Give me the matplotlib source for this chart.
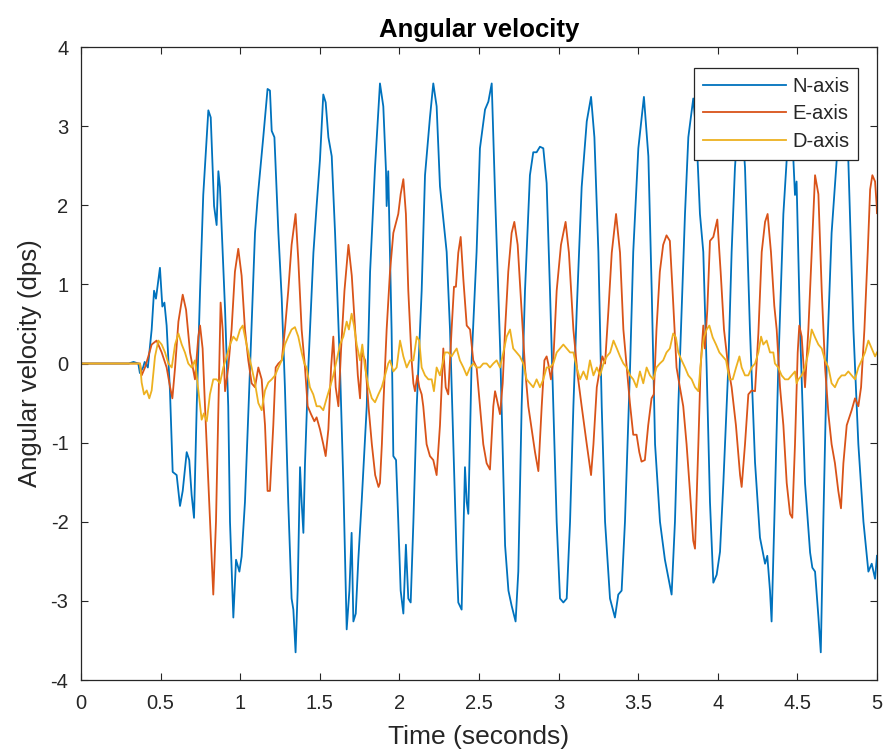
import matplotlib
matplotlib.use("Agg")
import matplotlib.pyplot as plt

# Angular velocity readings (time in seconds, value in dps)
n_time = [0.0, 0.30, 0.33, 0.36, 0.37, 0.39, 0.40, 0.42, 0.444, 0.459, 0.471, 0.496, 0.511, 0.524, 0.538,
          0.559, 0.576, 0.601, 0.622, 0.639, 0.664, 0.680, 0.695, 0.710, 0.727, 0.748, 0.768, 0.800, 0.815,
          0.836, 0.852, 0.863, 0.873, 0.905, 0.925, 0.936, 0.957, 0.974, 0.995, 1.009, 1.030, 1.062, 1.093,
          1.11, 1.145, 1.172, 1.187, 1.198, 1.215, 1.240, 1.261, 1.281, 1.302, 1.323, 1.334, 1.348, 1.361,
          1.376, 1.386, 1.397, 1.407, 1.428, 1.460, 1.480, 1.501, 1.522, 1.537, 1.554, 1.575, 1.596, 1.627,
          1.648, 1.669, 1.686, 1.700, 1.711, 1.726, 1.742, 1.763, 1.795, 1.816, 1.847, 1.878, 1.899, 1.916,
          1.920, 1.930, 1.951, 1.962, 1.979, 1.993, 2.008, 2.025, 2.041, 2.056, 2.071, 2.088, 2.109, 2.140,
          2.161, 2.192, 2.213, 2.234, 2.255, 2.297, 2.318, 2.339, 2.360, 2.370, 2.391, 2.412, 2.423, 2.433,
          2.454, 2.485, 2.506, 2.538, 2.559, 2.580, 2.601, 2.633, 2.664, 2.685, 2.705, 2.730, 2.747, 2.768,
          2.789, 2.820, 2.841, 2.862, 2.883, 2.904, 2.925, 2.946, 2.967, 2.988, 3.009, 3.030, 3.051, 3.072,
          3.093, 3.114, 3.145, 3.177, 3.204, 3.225, 3.250, 3.271, 3.292, 3.323, 3.354, 3.375, 3.396, 3.417,
          3.449, 3.469, 3.501, 3.536, 3.564, 3.585, 3.606, 3.637, 3.668, 3.710, 3.731, 3.752, 3.773, 3.794,
          3.815, 3.846, 3.867, 3.888, 3.909, 3.930, 3.951, 3.972, 3.993, 4.014, 4.035, 4.066, 4.087, 4.108,
          4.140, 4.171, 4.202, 4.234, 4.265, 4.297, 4.311, 4.328, 4.338, 4.355, 4.380, 4.412, 4.433, 4.455,
          4.475, 4.485, 4.495, 4.517, 4.548, 4.580, 4.594, 4.611, 4.632, 4.647, 4.663, 4.684, 4.715, 4.747,
          4.780, 4.820, 4.852, 4.883, 4.915, 4.946, 4.967, 4.988, 5.0]
n_vals = [0.0, 0.0, 0.02, 0.0, -0.12, -0.05, 0.02, -0.05, 0.43, 0.92, 0.82, 1.21, 0.72, 0.77, 0.48,
          -0.35, -1.37, -1.41, -1.80, -1.61, -1.12, -1.22, -1.66, -1.95, -0.54, 0.92, 2.13, 3.20, 3.11,
          1.99, 1.75, 2.43, 2.23, 0.68, -0.54, -2.0, -3.21, -2.48, -2.63, -2.44, -1.75, -0.05, 1.65,
          2.1, 2.86, 3.47, 3.45, 2.94, 2.86, 1.65, 0.82, -0.30, -1.76, -2.97, -3.11, -3.65, -2.87,
          -1.31, -1.75, -2.14, -1.27, -0.05, 1.40, 1.99, 2.57, 3.40, 3.30, 2.86, 2.62, 1.65, -0.05,
          -1.51, -3.36, -2.87, -2.14, -3.26, -3.16, -2.48, -1.75, -0.54, 1.16, 2.48, 3.54, 3.25, 2.43,
          1.99, 2.43, 0.43, -1.17, -1.22, -1.99, -2.87, -3.16, -2.29, -2.97, -3.02, -2.0, -0.54, 0.92,
          2.38, 3.11, 3.54, 3.25, 2.24, 1.41, 0.43, -1.02, -2.48, -3.02, -3.11, -1.31, -1.75, -1.90,
          0.05, 1.41, 2.72, 3.21, 3.31, 3.54, 2.14, 0.19, -2.3, -2.87, -3.06, -3.26, -2.63, -0.54,
          0.92, 2.38, 2.67, 2.67, 2.74, 2.72, 2.28, 0.92, -0.54, -2.0, -2.97, -3.02, -2.97, -2.0,
          -0.54, 0.67, 2.23, 3.06, 3.37, 2.86, 1.41, -0.54, -2.0, -2.97, -3.21, -2.92, -2.87, -2.0,
          -0.05, 1.41, 2.72, 3.37, 2.62, 0.92, -1.02, -2.0, -2.48, -2.92, -2.0, -0.54, 0.67, 1.89,
          2.86, 3.35, 2.86, 1.89, 1.41, -0.05, -1.75, -2.77, -2.67, -2.38, -1.51, -0.05, 1.41, 2.48,
          3.4, 2.48, 0.43, -1.25, -2.2, -2.53, -2.43, -2.87, -3.26, -2.0, -0.05, 1.89, 2.57, 3.3,
          2.57, 2.13, 2.3, 0.43, -1.51, -2.39, -2.58, -2.63, -3.2, -3.65, -2.0, -0.05, 1.65, 2.57,
          3.3, 2.57, 0.43, -1.02, -2.0, -2.63, -2.53, -2.72, -2.43]

e_time = [0.0, 0.371, 0.381, 0.402, 0.423, 0.444, 0.475, 0.507, 0.538, 0.559, 0.574, 0.591, 0.612, 0.639,
          0.660, 0.685, 0.702, 0.716, 0.737, 0.748, 0.764, 0.779, 0.800, 0.821, 0.831, 0.848, 0.863, 0.877,
          0.890, 0.905, 0.925, 0.946, 0.967, 0.988, 1.009, 1.030, 1.051, 1.072, 1.093, 1.114, 1.135, 1.156,
          1.172, 1.187, 1.208, 1.223, 1.240, 1.261, 1.281, 1.302, 1.323, 1.348, 1.365, 1.386, 1.407, 1.424,
          1.445, 1.466, 1.480, 1.501, 1.522, 1.537, 1.554, 1.571, 1.585, 1.600, 1.617, 1.634, 1.655, 1.680,
          1.701, 1.722, 1.739, 1.753, 1.764, 1.785, 1.806, 1.827, 1.848, 1.869, 1.878, 1.890, 1.899, 1.920,
          1.941, 1.962, 1.993, 2.008, 2.025, 2.041, 2.056, 2.077, 2.088, 2.098, 2.113, 2.125, 2.140, 2.150,
          2.171, 2.192, 2.213, 2.234, 2.255, 2.276, 2.291, 2.307, 2.328, 2.343, 2.355, 2.370, 2.385, 2.402,
          2.423, 2.444, 2.464, 2.485, 2.506, 2.527, 2.548, 2.569, 2.590, 2.601, 2.611, 2.632, 2.649, 2.664,
          2.684, 2.705, 2.722, 2.743, 2.768, 2.789, 2.810, 2.831, 2.852, 2.873, 2.894, 2.911, 2.925, 2.935,
          2.952, 2.967, 2.988, 3.015, 3.044, 3.065, 3.093, 3.120, 3.145, 3.177, 3.204, 3.219, 3.240, 3.261,
          3.275, 3.292, 3.313, 3.334, 3.361, 3.386, 3.407, 3.428, 3.448, 3.469, 3.490, 3.507, 3.521, 3.542,
          3.563, 3.584, 3.598, 3.615, 3.636, 3.657, 3.678, 3.699, 3.716, 3.741, 3.762, 3.783, 3.804, 3.825,
          3.846, 3.857, 3.878, 3.892, 3.909, 3.919, 3.934, 3.951, 3.972, 3.997, 4.018, 4.039, 4.066, 4.087,
          4.114, 4.140, 4.150, 4.171, 4.192, 4.213, 4.234, 4.255, 4.276, 4.297, 4.313, 4.334, 4.355, 4.370,
          4.391, 4.412, 4.433, 4.454, 4.468, 4.485, 4.502, 4.512, 4.527, 4.548, 4.569, 4.590, 4.611, 4.632,
          4.653, 4.674, 4.695, 4.715, 4.736, 4.757, 4.774, 4.789, 4.810, 4.841, 4.862, 4.883, 4.900, 4.921,
          4.942, 4.957, 4.971, 4.988, 4.998, 5.0]
e_vals = [0.0, 0.0, -0.15, -0.05, 0.09, 0.24, 0.29, 0.14, -0.05, -0.29, -0.44, -0.05, 0.53, 0.87,
          0.68, 0.14, -0.05, -0.2, 0.34, 0.48, 0.19, -0.54, -1.51, -2.48, -2.92, -2.0, -0.54, 0.77,
          0.43, -0.35, -0.05, 0.43, 1.16, 1.45, 1.11, 0.43, 0.04, -0.25, -0.3, -0.05, -0.2, -0.78,
          -1.61, -1.61, -0.78, -0.05, 0.0, 0.04, 0.43, 0.92, 1.50, 1.89, 1.31, 0.43, -0.05, -0.54,
          -0.64, -0.73, -0.68, -0.83, -1.02, -1.17, -0.83, -0.05, 0.34, -0.3, -0.54, 0.19, 0.92, 1.50,
          1.11, 0.43, -0.15, -0.44, 0.14, 0.04, -0.54, -1.02, -1.41, -1.56, -1.51, -1.02, -0.54, 0.43,
          1.16, 1.65, 1.89, 2.14, 2.33, 1.89, 0.92, 0.04, -0.25, -0.35, -0.15, -0.30, -0.39, -0.54,
          -1.02, -1.17, -1.22, -1.41, -0.78, 0.19, -0.30, -0.39, 0.43, 0.97, 0.97, 1.40, 1.60, 1.06,
          0.48, 0.43, 0.04, -0.05, -0.54, -1.02, -1.26, -1.34, -0.54, -0.35, -0.44, -0.64, -0.25, 0.43,
          1.16, 1.65, 1.79, 1.50, 0.67, -0.05, -0.54, -0.83, -1.12, -1.36, -0.54, 0.04, 0.09, 0.0,
          -0.2, 0.04, 0.92, 1.50, 1.79, 1.40, 0.43, -0.15, -0.54, -1.02, -1.41, -1.02, -0.30, -0.05,
          0.09, 0.0, 0.67, 1.40, 1.89, 1.40, 0.43, -0.05, -0.5, -0.9, -0.90, -1.12, -1.24, -1.22,
          -0.78, -0.44, -0.39, 0.43, 1.16, 1.50, 1.62, 1.55, 0.92, -0.05, -0.30, -0.54, -1.02, -1.61,
          -2.24, -2.34, -1.02, -0.05, 0.48, 0.19, 0.67, 1.55, 1.60, 1.82, 1.16, 0.43, -0.05, -0.30,
          -0.78, -1.41, -1.56, -1.02, -0.39, -0.34, -0.35, 0.38, 1.41, 1.79, 1.89, 1.41, 0.73, 0.43,
          -0.30, -0.78, -1.51, -1.90, -1.95, -1.02, 0.14, 0.48, 0.34, -0.30, 0.43, 1.41, 2.38, 2.14,
          0.92, -0.05, -0.64, -1.02, -1.26, -1.61, -1.83, -1.26, -0.78, -0.59, -0.44, -0.54, -0.30, 0.43,
          1.41, 2.2, 2.38, 2.3, 2.0, 1.9]

d_time = [0.0, 0.371, 0.381, 0.396, 0.413, 0.429, 0.444, 0.465, 0.486, 0.507, 0.528, 0.549, 0.570, 0.591,
          0.612, 0.633, 0.653, 0.674, 0.695, 0.716, 0.737, 0.758, 0.772, 0.790, 0.810, 0.831, 0.852, 0.873,
          0.894, 0.915, 0.936, 0.957, 0.978, 0.999, 1.016, 1.030, 1.051, 1.072, 1.093, 1.114, 1.135, 1.156,
          1.177, 1.198, 1.219, 1.240, 1.261, 1.281, 1.302, 1.323, 1.344, 1.365, 1.386, 1.403, 1.417, 1.438,
          1.459, 1.480, 1.501, 1.522, 1.543, 1.564, 1.585, 1.606, 1.627, 1.648, 1.669, 1.683, 1.700, 1.715,
          1.732, 1.753, 1.767, 1.784, 1.806, 1.827, 1.847, 1.868, 1.889, 1.910, 1.930, 1.941, 1.962, 1.983,
          2.004, 2.025, 2.046, 2.067, 2.088, 2.109, 2.125, 2.140, 2.161, 2.182, 2.203, 2.217, 2.234, 2.255,
          2.272, 2.286, 2.307, 2.328, 2.343, 2.360, 2.380, 2.402, 2.423, 2.444, 2.464, 2.485, 2.506, 2.527,
          2.548, 2.569, 2.590, 2.611, 2.632, 2.653, 2.674, 2.695, 2.715, 2.736, 2.757, 2.778, 2.799, 2.820,
          2.841, 2.862, 2.883, 2.904, 2.925, 2.946, 2.967, 2.988, 3.009, 3.030, 3.051, 3.072, 3.093, 3.114,
          3.135, 3.156, 3.177, 3.197, 3.219, 3.240, 3.261, 3.282, 3.303, 3.324, 3.345, 3.366, 3.386, 3.407,
          3.428, 3.449, 3.469, 3.490, 3.511, 3.532, 3.553, 3.574, 3.595, 3.615, 3.636, 3.657, 3.678, 3.699,
          3.720, 3.737, 3.752, 3.773, 3.794, 3.815, 3.836, 3.857, 3.878, 3.899, 3.913, 3.930, 3.947, 3.968,
          3.989, 4.010, 4.031, 4.052, 4.073, 4.094, 4.115, 4.136, 4.150, 4.171, 4.192, 4.213, 4.234, 4.255,
          4.272, 4.286, 4.307, 4.328, 4.349, 4.359, 4.380, 4.401, 4.422, 4.443, 4.464, 4.485, 4.495, 4.506,
          4.527, 4.548, 4.569, 4.590, 4.611, 4.632, 4.653, 4.674, 4.695, 4.715, 4.736, 4.757, 4.778, 4.799,
          4.820, 4.841, 4.862, 4.883, 4.904, 4.925, 4.946, 4.967, 4.988, 5.0]
d_vals = [0.0, 0.0, -0.24, -0.39, -0.34, -0.44, -0.34, 0.09, 0.29, 0.24, 0.14, 0.0, -0.05, 0.24,
          0.38, 0.24, 0.14, 0.0, -0.05, 0.04, -0.34, -0.71, -0.63, -0.73, -0.39, -0.20, -0.20, -0.25,
          -0.05, 0.09, 0.24, 0.34, 0.29, 0.43, 0.48, 0.34, 0.14, -0.05, -0.25, -0.5, -0.59, -0.34,
          -0.24, -0.20, -0.15, -0.05, 0.04, 0.24, 0.34, 0.43, 0.46, 0.34, 0.14, 0.0, -0.05, -0.30,
          -0.39, -0.54, -0.54, -0.59, -0.44, -0.30, -0.15, 0.04, 0.24, 0.34, 0.53, 0.43, 0.63, 0.48,
          0.24, 0.04, 0.24, -0.05, -0.30, -0.44, -0.49, -0.39, -0.30, -0.15, 0.0, 0.04, -0.10, -0.05,
          0.29, 0.09, -0.05, 0.04, 0.04, 0.34, 0.29, -0.05, -0.15, -0.20, -0.20, -0.35, -0.05, -0.15,
          0.0, 0.14, 0.14, 0.09, 0.14, 0.19, 0.04, -0.05, -0.15, -0.05, 0.0, -0.05, -0.05, 0.0,
          0.0, -0.05, 0.0, 0.04, -0.05, 0.14, 0.34, 0.43, 0.19, 0.14, 0.09, 0.0, -0.20, -0.25,
          -0.30, -0.20, -0.30, -0.20, -0.05, -0.05, 0.0, 0.14, 0.19, 0.24, 0.19, 0.14, 0.14, -0.05,
          -0.20, -0.10, -0.20, 0.04, -0.15, -0.05, -0.15, 0.0, 0.09, 0.14, 0.29, 0.19, 0.09, 0.0,
          -0.05, -0.15, -0.20, -0.30, -0.10, -0.25, -0.05, -0.15, -0.20, -0.05, 0.0, 0.04, 0.14, 0.19,
          0.38, 0.33, 0.14, 0.04, -0.05, -0.15, -0.20, -0.30, -0.35, 0.14, 0.33, 0.43, 0.48, 0.33,
          0.24, 0.14, 0.09, 0.04, -0.20, -0.20, -0.05, 0.09, -0.05, -0.15, -0.15, -0.05, 0.0, 0.14,
          0.34, 0.24, 0.29, 0.14, 0.14, 0.0, -0.05, -0.15, -0.20, -0.20, -0.15, -0.10, -0.25, -0.20,
          -0.15, -0.05, 0.14, 0.43, 0.33, 0.24, 0.19, 0.04, -0.05, -0.25, -0.30, -0.20, -0.15, -0.15,
          -0.10, -0.15, -0.20, -0.05, 0.04, 0.14, 0.29, 0.19, 0.09, 0.14]

x_ticks = [0, 0.5, 1, 1.5, 2, 2.5, 3, 3.5, 4, 4.5, 5]
x_tick_labels = ["0", "0.5", "1", "1.5", "2", "2.5", "3", "3.5", "4", "4.5", "5"]
y_ticks = [-4, -3, -2, -1, 0, 1, 2, 3, 4]

plt.rcParams['font.family'] = ['Liberation Sans', 'DejaVu Sans']
plt.rcParams['axes.unicode_minus'] = False  # plain hyphen minus, like MATLAB

fig = plt.figure(figsize=(8.87, 7.56), dpi=100)
ax = fig.add_axes([0.0913, 0.1005, 0.8974, 0.8373])

# MATLAB default line colours
ax.plot(n_time, n_vals, color='#0072BD', lw=1.3, label='N-axis')
ax.plot(e_time, e_vals, color='#D95319', lw=1.3, label='E-axis')
ax.plot(d_time, d_vals, color='#EDB120', lw=1.3, label='D-axis')

ax.set_xlim(0, 5)
ax.set_ylim(-4, 4)
ax.set_xticks(x_ticks)
ax.set_xticklabels(x_tick_labels)
ax.set_yticks(y_ticks)

ax.tick_params(direction='in', top=True, right=True, length=5, width=0.8,
               labelsize=14.5, colors='#262626')
ax.tick_params(axis='x', pad=10)
ax.tick_params(axis='y', pad=9)
for s in ax.spines.values():
    s.set_color('#262626')
    s.set_linewidth(0.9)

ax.set_xlabel("Time (seconds)", fontsize=19, color='#262626', labelpad=9)
ax.set_ylabel("Angular velocity (dps)", fontsize=18.5, color='#262626', labelpad=6)
ax.set_title("Angular velocity", fontsize=18.5, fontweight='bold', color='black', pad=7)

leg = ax.legend(loc='upper right', bbox_to_anchor=(0.9765, 0.967), fontsize=14.5,
                frameon=True, fancybox=False, framealpha=1, edgecolor='#262626',
                handlelength=4.1, borderpad=0.45, labelspacing=0.42, handletextpad=0.3,
                borderaxespad=0)
leg.get_frame().set_linewidth(0.9)
for t in leg.get_texts():
    t.set_color('#262626')

fig.savefig("out.png", dpi=100)
